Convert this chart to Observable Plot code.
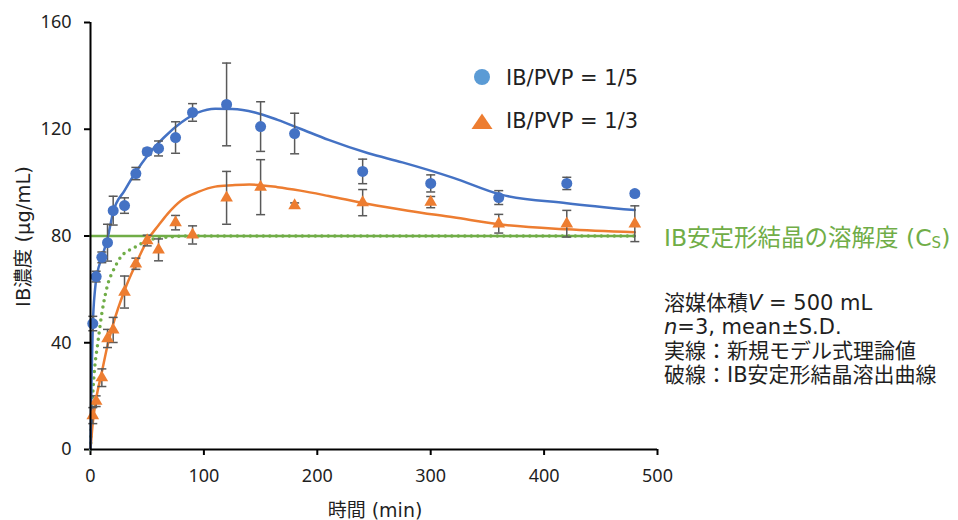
<!DOCTYPE html>
<html><head><meta charset="utf-8">
<script src="https://cdn.jsdelivr.net/npm/d3@7"></script>
<script src="https://cdn.jsdelivr.net/npm/@observablehq/plot@0.6"></script>
<style>
body{margin:0;background:#fff;}
#chart svg{display:block;}
</style></head>
<body><div id="chart"></div>
<script>
// Observed data (mean ± S.D.)
const times = [2,5,10,15,20,30,40,50,60,75,90,120,150,180,240,300,360,420,480];
const mean15 = [47.2,64.8,72,77.5,89.5,91.4,103.4,111.6,112.8,116.9,126.3,129.3,121,118.4,104.2,99.7,94.4,99.7,95.9];
const sd15   = [2.7,2,2,6.9,5.4,2.9,2.3,1.2,2.8,5.9,3.3,15.5,9.3,7.6,4.6,3.2,2.6,2.3,1];
const mean13 = [12.7,18.1,26.9,41.6,44.8,59,69.6,78.3,74.8,85,80.4,94.3,98.3,91.4,92.5,92.7,84.6,84.6,84.6];
const sd13   = [3,2,3.3,3.4,4.7,6,2.1,2,4.1,2.7,3.4,9.9,10.3,1,4.9,2.1,3.5,5,6.7];

// Model curves
const modelT15 = [0,1,2,4,6,10,15,20,30,40,50,65,80,95,110,125,145,165,185,210,245,275,320,362,420,480];
const modelV15 = [0,28,46,60,66,72,79,89,97,104,110,117,122.5,126.3,127.7,127.6,126.3,123.5,120.2,116,111,107.6,101.8,95.5,92.3,89.7];
const modelT13 = [0,2,5,10,15,20,30,40,50,60,68,80,95,110,125,140,165,185,210,245,280,320,362,420,480];
const modelV13 = [0,10,19,29,39,47,59.6,69.5,78.3,84,88.3,93.3,96.5,98.5,99,99.3,98.3,97,95,92,89.5,87,84.3,82.5,81.4];
// Stable crystal dissolution curve (dotted) and solubility Cs
const stableT = [0,1,2.3,4,6,10,16,20,26.5,38,53,68,90,480];
const stableV = [0,12,23,32,38.5,51,63,67,72,75.5,78.6,79.6,80,80];
const cs = 80;
const csT = [0,480];

const xTicks = [0,100,200,300,400,500];
const yTicks = [0,40,80,120,160];
const legendLabels = ["IB/PVP = 1/5","IB/PVP = 1/3"];
const xLabel = "時間 (min)";
const yLabel = "IB濃度 (µg/mL)";

const BLUE = "#4472C4", ORANGE = "#ED7D31", GREEN = "#70AD47", BAR = "#595959", INK = "#1f1f1f";

const obs15 = times.map((t,i)=>({t, m:mean15[i], sd:sd15[i]}));
const obs13 = times.map((t,i)=>({t, m:mean13[i], sd:sd13[i]}));
const mod15 = modelT15.map((t,i)=>({t, v:modelV15[i]}));
const mod13 = modelT13.map((t,i)=>({t, v:modelV13[i]}));
const stable = stableT.map((t,i)=>({t, v:stableV[i]}));
const csLine = csT.map(t=>({t, v:cs}));

const capSymbol = {draw(ctx, size){ const r = 4.5; ctx.moveTo(-r,0); ctx.lineTo(r,0); }};
const bars = obs => [
  Plot.ruleX(obs, {x:"t", y1:d=>d.m-d.sd, y2:d=>d.m+d.sd, stroke:BAR, strokeWidth:1.5}),
  Plot.dot(obs, {x:"t", y:d=>d.m-d.sd, symbol:capSymbol, stroke:BAR, strokeWidth:1.5, r:4}),
  Plot.dot(obs, {x:"t", y:d=>d.m+d.sd, symbol:capSymbol, stroke:BAR, strokeWidth:1.5, r:4})
];

const TICKFONT = '"Noto Sans", "Noto Sans CJK JP", sans-serif';
const FONT = '"DejaVu Sans", "Noto Sans CJK JP", sans-serif';

const plot = Plot.plot({
  width:958, height:520,
  marginLeft:90, marginRight:301, marginTop:22, marginBottom:71,
  style:{fontFamily:TICKFONT, fontSize:"18px", color:INK, background:"#fff"},
  x:{domain:[0,500], ticks:xTicks, tickSize:6, tickPadding:14, label:null},
  y:{domain:[0,160], ticks:yTicks, tickSize:6, tickPadding:13, label:null},
  marks:[
    Plot.line(csLine, {x:"t", y:"v", stroke:GREEN, strokeWidth:2.5}),
    Plot.line(stable, {x:"t", y:"v", stroke:GREEN, strokeWidth:3.5, strokeDasharray:"0 6.5", strokeLinecap:"round", curve:"monotone-x"}),
    Plot.line(mod13, {x:"t", y:"v", stroke:ORANGE, strokeWidth:2.5, curve:"monotone-x"}),
    Plot.line(mod15, {x:"t", y:"v", stroke:BLUE, strokeWidth:2.5, curve:"monotone-x"}),
    ...bars(obs15),
    ...bars(obs13),
    Plot.dot(obs15, {x:"t", y:"m", r:5.5, fill:BLUE, stroke:"none"}),
    Plot.dot(obs13, {x:"t", y:"m", r:4.7, symbol:"triangle", fill:ORANGE, stroke:"none"}),
    Plot.ruleX([0], {stroke:"#000", strokeWidth:2}),
    Plot.ruleY([0], {stroke:"#000", strokeWidth:2})
  ]
});
document.getElementById("chart").appendChild(plot);

const svg = d3.select(plot);
svg.selectAll('g[aria-label$="axis"] path, g[aria-label$="axis"] line, g[aria-label$="tick"] path').attr("stroke","#000").attr("stroke-width",2);
const xs = plot.scale("x"), ys = plot.scale("y");

const add = svg.append("g").attr("font-family", FONT).attr("fill", INK).attr("text-anchor","start");

// axis titles
add.append("text").attr("x", 375).attr("y", 510).attr("text-anchor","middle")
  .attr("dominant-baseline","central").attr("font-size",19).text(xLabel);
add.append("text").attr("transform", `translate(23,${ys.apply(80)+1}) rotate(-90)`).attr("text-anchor","middle")
  .attr("dominant-baseline","central").attr("font-size",19.5).text(yLabel);

// legend
const lg = add.append("g").attr("font-size",21);
lg.append("circle").attr("cx",482).attr("cy",77).attr("r",8).attr("fill","#5B9BD5");
lg.append("text").attr("x",506).attr("y",78).attr("dominant-baseline","central").text(legendLabels[0]);
lg.append("path").attr("d","M482,113.5 L492.5,129 L471.5,129 Z").attr("fill",ORANGE);
lg.append("text").attr("x",506).attr("y",121).attr("dominant-baseline","central").text(legendLabels[1]);

// Cs label
const cst = add.append("text").attr("x",664).attr("y",ys.apply(cs)+2).attr("dominant-baseline","central")
  .attr("font-size",23.5).attr("fill",GREEN);
cst.append("tspan").text("IB安定形結晶の溶解度 (C");
cst.append("tspan").attr("font-size",15).attr("dy",5).text("S");
cst.append("tspan").attr("dy",-5).text(")");

// notes
const notes = add.append("g").attr("font-size",21);
const n1 = notes.append("text").attr("x",664).attr("y",303).attr("dominant-baseline","central");
n1.append("tspan").text("溶媒体積");
n1.append("tspan").attr("font-style","italic").text("V");
n1.append("tspan").text(" = 500 mL");
const n2 = notes.append("text").attr("x",664).attr("y",327).attr("dominant-baseline","central");
n2.append("tspan").attr("font-style","italic").text("n");
n2.append("tspan").text("=3, mean±S.D.");
notes.append("text").attr("x",664).attr("y",351).attr("dominant-baseline","central").text("実線：新規モデル式理論値");
notes.append("text").attr("x",664).attr("y",375).attr("dominant-baseline","central").text("破線：IB安定形結晶溶出曲線");
</script>
</body></html>
